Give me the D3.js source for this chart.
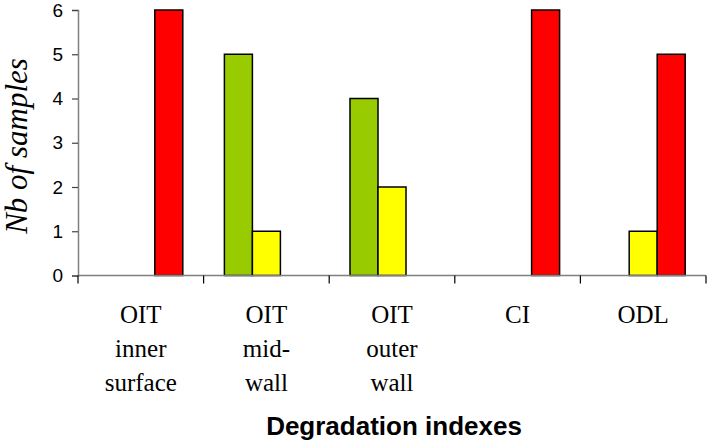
<!DOCTYPE html>
<html>
<head>
<meta charset="utf-8">
<script src="https://cdn.jsdelivr.net/npm/d3@7/dist/d3.min.js"></script>
<style>
  html, body { margin: 0; padding: 0; background: #fff; }
  svg { display: block; }
</style>
</head>
<body>
<svg id="chart" width="710" height="441"></svg>
<script>
const categories = ["OIT inner surface", "OIT mid-wall", "OIT outer wall", "CI", "ODL"];
const categoryLines = [["OIT", "inner", "surface"], ["OIT", "mid-", "wall"], ["OIT", "outer", "wall"], ["CI"], ["ODL"]];
const seriesNames = ["green", "yellow", "red"];
const greenValues = [0, 5, 4, 0, 0];
const yellowValues = [0, 1, 2, 0, 1];
const redValues = [6, 0, 0, 6, 5];
const seriesColors = ["#99CC00", "#FFFF00", "#FF0000"];
const yTicks = [0, 1, 2, 3, 4, 5, 6];
const yTitle = "Nb of samples";
const xTitle = "Degradation indexes";

const seriesValues = [greenValues, yellowValues, redValues];

const svg = d3.select("#chart");
const plotLeft = 78, plotRight = 706, plotTop = 10, plotBottom = 275.5;

const x = d3.scaleBand().domain(categories).range([plotLeft, plotRight]).padding(0);
const bw = x.bandwidth();
const groupW = 84;
const xi = d3.scaleBand().domain(seriesNames).range([bw / 2 - groupW / 2, bw / 2 + groupW / 2]).padding(0);
const y = d3.scaleLinear().domain([0, 6]).range([plotBottom, plotTop]);

// bars
const rows = [];
categories.forEach((c, i) => {
  seriesNames.forEach((s, j) => {
    const v = seriesValues[j][i];
    if (v > 0) rows.push({ c, s, v, color: seriesColors[j] });
  });
});
svg.append("g").selectAll("rect").data(rows).join("rect")
  .attr("x", d => x(d.c) + xi(d.s))
  .attr("y", d => y(d.v))
  .attr("width", xi.bandwidth())
  .attr("height", d => y(0) - y(d.v))
  .attr("fill", d => d.color)
  .attr("stroke", "#000")
  .attr("stroke-width", 1.5);

// y axis
const yAxis = svg.append("g").attr("transform", `translate(${plotLeft},0)`)
  .call(d3.axisLeft(y).tickValues(yTicks).tickSize(6).tickPadding(9).tickFormat(d3.format("d")));
yAxis.attr("font-size", null).attr("font-family", null);
yAxis.select(".domain").attr("stroke", "#808080").attr("stroke-width", 1.5);
yAxis.selectAll(".tick line").attr("stroke", "#444").attr("stroke-width", 1.2);
yAxis.selectAll(".tick text")
  .style("font-family", "'Liberation Sans', Arial, sans-serif")
  .style("font-size", "19px")
  .attr("fill", "#000");

// x axis line and boundary ticks
const boundaries = categories.map(c => x(c)).concat([plotRight]);
svg.append("line")
  .attr("x1", plotLeft).attr("x2", plotRight)
  .attr("y1", y(0)).attr("y2", y(0))
  .attr("stroke", "#808080").attr("stroke-width", 1.5);
svg.append("g").selectAll("line").data(boundaries).join("line")
  .attr("x1", d => d).attr("x2", d => d)
  .attr("y1", y(0)).attr("y2", y(0) + 8)
  .attr("stroke", "#000").attr("stroke-width", 1.2);

// category labels
const labG = svg.append("g")
  .style("font-family", "'Liberation Serif', 'Times New Roman', serif")
  .style("font-size", "25px")
  .attr("fill", "#000")
  .attr("text-anchor", "middle");
categories.forEach((c, i) => {
  const t = labG.append("text").attr("x", x(c) + bw / 2).attr("y", 323);
  categoryLines[i].forEach((ln, k) => {
    t.append("tspan").attr("x", x(c) + bw / 2).attr("y", 323 + k * 34).text(ln);
  });
});

// titles
svg.append("text")
  .attr("x", 394).attr("y", 435)
  .attr("text-anchor", "middle")
  .style("font-family", "'Liberation Sans', Arial, sans-serif")
  .style("font-weight", "bold")
  .style("font-size", "26px")
  .attr("fill", "#000")
  .text(xTitle);

svg.append("text")
  .attr("transform", "translate(27,146) rotate(-90)")
  .attr("text-anchor", "middle")
  .style("font-family", "'Liberation Serif', 'Times New Roman', serif")
  .style("font-style", "italic")
  .style("font-size", "31px")
  .attr("fill", "#000")
  .text(yTitle);
</script>
</body>
</html>
